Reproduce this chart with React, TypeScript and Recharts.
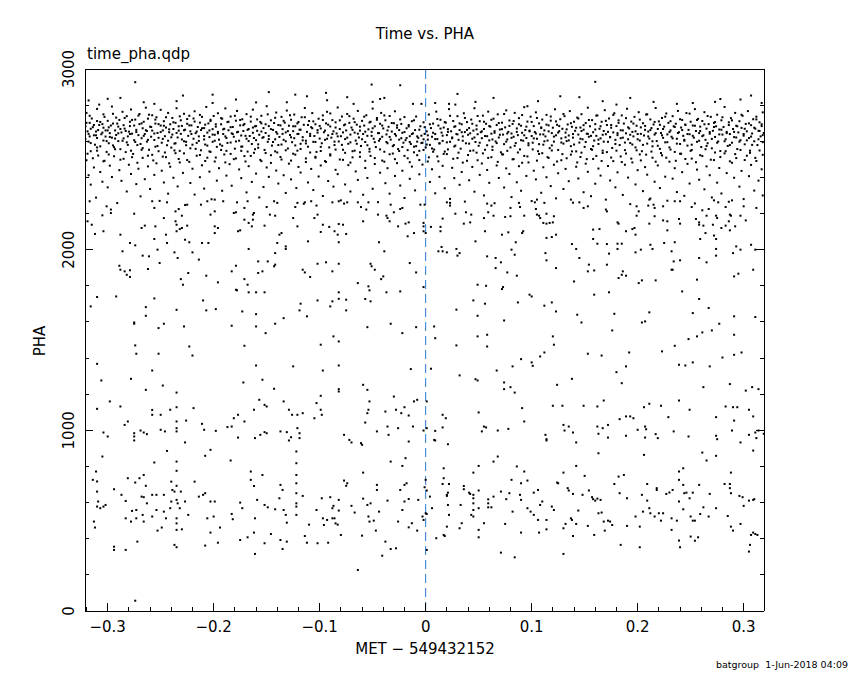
import { ScatterChart, Scatter, XAxis, YAxis, ReferenceLine } from 'recharts';

// every point is [time offset in ms from MET 549432152, PHA]
type Pt = [number, number];

const xTicks = [
  -0.32, -0.3, -0.28, -0.26, -0.24, -0.22, -0.2, -0.18, -0.16, -0.14, -0.12, -0.1, -0.08, -0.06, -0.04, -0.02,
  0, 0.02, 0.04, 0.06, 0.08, 0.1, 0.12, 0.14, 0.16, 0.18, 0.2, 0.22, 0.24, 0.26, 0.28, 0.3,
];
const xLabels = [-0.3, -0.2, -0.1, 0, 0.1, 0.2, 0.3];
const yTicks = [0, 200, 400, 600, 800, 1000, 1200, 1400, 1600, 1800, 2000, 2200, 2400, 2600, 2800, 3000];
const yLabels = [0, 1000, 2000, 3000];

// sparse points above the main band
const bandTop: Pt[] = [
  [-318,2826],[-308,2803],[-300,2835],[-288,2840],[-274,2927],[-266,2816],[-256,2807],[-235,2822],[-229,2853],
  [-201,2858],[-201,2812],[-179,2831],[-160,2815],[-148,2872],[-131,2816],[-123,2858],[-112,2849],[-94,2868],
  [-93,2827],[-74,2844],[-68,2807],[-51,2914],[-50,2818],[-43,2834],[-39,2840],[-24,2910],[-12,2807],[-4,2807],
  [9,2812],[22,2807],[28,2803],[30,2862],[47,2818],[64,2840],[96,2794],[106,2822],[127,2849],[145,2844],
  [160,2929],[167,2822],[180,2803],[193,2840],[215,2818],[237,2807],[252,2812],[273,2818],[278,2834],
  [297,2831],[307,2853],[317,2812],
];

// dense band around PHA 2540-2800
const bandCore: Pt[] = [
  [-321,2683],[-321,2612],[-320,2757],[-318,2641],[-318,2598],[-317,2702],[-316,2669],[-316,2545],[-315,2726],[-313,2633],
  [-313,2690],[-312,2581],[-311,2654],[-310,2779],[-310,2618],[-309,2662],[-307,2707],[-307,2572],[-306,2639],[-305,2695],
  [-304,2749],[-304,2604],[-302,2660],[-302,2626],[-301,2541],[-300,2713],[-299,2677],[-299,2589],[-298,2645],[-296,2792],
  [-296,2620],[-295,2698],[-294,2567],[-293,2660],[-292,2731],[-292,2635],[-290,2601],[-290,2681],[-289,2718],[-288,2556],
  [-287,2649],[-286,2763],[-285,2616],[-285,2689],[-284,2670],[-282,2594],[-282,2739],[-281,2627],[-280,2653],[-279,2708],
  [-278,2548],[-278,2776],[-277,2642],[-275,2687],[-275,2606],[-274,2720],[-273,2663],[-272,2579],[-271,2634],[-270,2695],
  [-270,2751],[-268,2617],[-267,2562],[-267,2672],[-266,2708],[-265,2640],[-264,2786],[-263,2598],[-263,2657],[-262,2725],
  [-261,2553],[-260,2681],[-259,2625],[-258,2744],[-258,2659],[-256,2607],[-255,2698],[-255,2570],[-254,2733],[-253,2646],
  [-252,2619],[-250,2687],[-250,2774],[-249,2592],[-248,2660],[-247,2711],[-246,2538],[-246,2628],[-245,2676],[-243,2757],
  [-243,2603],[-242,2650],[-241,2694],[-240,2565],[-239,2729],[-239,2637],[-238,2668],[-236,2589],[-236,2702],[-235,2783],
  [-234,2621],[-233,2659],[-232,2547],[-231,2716],[-231,2641],[-230,2685],[-228,2600],[-228,2752],[-227,2664],[-226,2578],
  [-225,2697],[-224,2630],[-223,2741],[-222,2655],[-222,2561],[-221,2688],[-219,2614],[-219,2726],[-218,2766],[-217,2645],
  [-216,2591],[-215,2679],[-214,2627],[-213,2703],[-212,2550],[-212,2662],[-211,2735],[-209,2610],[-209,2673],[-208,2582],
  [-207,2790],[-206,2648],[-205,2699],[-204,2623],[-204,2544],[-203,2712],[-201,2667],[-201,2597],[-200,2740],
  [-199,2636],[-198,2681],[-197,2569],[-196,2755],[-196,2652],[-195,2609],[-193,2694],[-193,2728],[-192,2575],[-191,2640],
  [-190,2669],[-189,2782],[-188,2618],[-188,2547],[-187,2706],[-186,2661],[-184,2593],[-184,2737],[-183,2644],[-182,2679],
  [-181,2625],[-180,2559],[-179,2714],[-178,2650],[-178,2768],[-176,2603],[-175,2688],[-174,2632],[-173,2571],[-173,2722],
  [-172,2657],[-171,2696],[-169,2614],[-169,2750],[-168,2543],[-167,2668],[-166,2629],[-165,2709],[-164,2585],[-163,2775],
  [-163,2647],[-161,2683],[-160,2606],[-159,2721],[-159,2658],[-158,2564],[-157,2636],[-155,2699],[-155,2741],[-154,2619],
  [-153,2673],[-152,2552],[-151,2646],[-150,2794],[-149,2597],[-148,2684],[-148,2630],[-146,2716],[-145,2576],[-144,2663],
  [-143,2701],[-142,2611],[-141,2759],[-140,2642],[-140,2538],
  [-139,2690],[-138,2624],[-136,2735],[-136,2582],[-135,2667],[-134,2608],[-133,2703],[-132,2649],[-131,2770],[-130,2560],
  [-129,2686],[-128,2635],[-127,2719],[-126,2595],[-125,2656],[-124,2748],[-124,2617],[-123,2683],[-121,2548],[-121,2640],
  [-120,2707],[-119,2664],[-118,2586],[-117,2733],[-116,2623],[-115,2691],[-114,2784],[-113,2603],[-112,2652],[-111,2570],
  [-110,2712],[-109,2641],[-108,2678],[-107,2756],[-106,2597],[-105,2629],[-104,2694],[-103,2541],[-102,2662],[-101,2725],
  [-100,2615],[-99,2671],[-98,2589],[-97,2743],[-96,2650],[-95,2608],[-94,2699],[-93,2763],[-92,2633],[-91,2566],
  [-90,2682],[-89,2620],[-88,2717],[-87,2655],[-86,2579],[-85,2705],[-84,2643],[-83,2787],[-82,2599],[-81,2668],[-80,2628],
  [-79,2737],[-78,2553],[-77,2689],[-76,2612],[-75,2660],[-74,2751],[-73,2586],[-72,2702],[-71,2637],[-70,2676],
  [-69,2545],[-68,2725],[-67,2648],[-66,2604],[-65,2692],[-64,2768],[-63,2621],[-62,2659],[-61,2574],[-60,2713],
  [-59,2640],[-58,2687],[-57,2596],[-56,2744],[-55,2630],[-54,2666],[-53,2558],[-52,2708],[-51,2652],[-50,2781],
  [-49,2614],[-48,2683],[-47,2568],[-46,2729],[-45,2645],[-44,2603],[-43,2697],[-42,2757],[-41,2625],[-40,2671],
  [-39,2542],[-38,2716],[-37,2638],[-36,2589],[-35,2680],[-34,2740],[-33,2609],[-32,2654],[-31,2573],[-30,2700],
  [-29,2766],[-28,2631],[-27,2688],[-26,2557],[-25,2662],[-24,2721],[-23,2617],[-22,2647],[-21,2592],[-20,2734],
  [-19,2606],[-18,2672],[-17,2551],[-16,2690],[-15,2628],[-14,2585],[-13,2711],[-12,2644],[-11,2570],[-10,2662],
  [-9,2737],[-8,2598],[-7,2619],[-6,2547],[-5,2683],[-4,2631],[-3,2592],[-2,2705],[-1,2641],[0,2566],
  [1,2655],[2,2609],[3,2748],[4,2580],[5,2673],[6,2625],[7,2698],[8,2554],[9,2640],[10,2764],
  [11,2612],[12,2687],[13,2588],[14,2719],[15,2648],[16,2602],[17,2676],[18,2543],[19,2703],[20,2634],
  [21,2667],[22,2778],[23,2597],[24,2655],[25,2621],[26,2712],[27,2571],[28,2683],[29,2640],[30,2739],
  [31,2608],[32,2662],[33,2559],[34,2694],[35,2627],[36,2755],[37,2651],[38,2589],[39,2706],[40,2636],
  [41,2673],[42,2547],[43,2720],[44,2614],[45,2659],[46,2783],[47,2596],[48,2687],[49,2639],[50,2575],
  [51,2711],[52,2650],[53,2617],[54,2742],[55,2668],[56,2553],[57,2697],[58,2628],[59,2764],[60,2605],
  [61,2681],[62,2642],[63,2570],[64,2725],[65,2656],[66,2599],[67,2690],[68,2749],[69,2621],[70,2665],
  [71,2539],[72,2703],[73,2637],[74,2584],[75,2677],[76,2771],[77,2610],[78,2652],[79,2715],[80,2566],
  [81,2643],[82,2696],[83,2625],[84,2757],[85,2590],[86,2671],[87,2634],[88,2728],[89,2555],[90,2686],
  [91,2647],[92,2603],[93,2789],[94,2662],[95,2618],[96,2709],[97,2578],[98,2655],[99,2736],[100,2629],
  [101,2592],[102,2684],[103,2651],[104,2760],[105,2614],[106,2545],[107,2699],[108,2638],[109,2673],[110,2720],
  [111,2581],[112,2660],[113,2627],[114,2746],[115,2604],[116,2688],[117,2562],[118,2714],[119,2645],[120,2675],
  [121,2598],[122,2777],[123,2633],[124,2691],[125,2552],[126,2656],[127,2722],[128,2616],[129,2669],[130,2587],
  [131,2739],[132,2648],[133,2601],[134,2693],[135,2632],[136,2767],[137,2573],[138,2680],[139,2620],[140,2708],
  [141,2658],[142,2544],[143,2731],[144,2637],[145,2593],[146,2676],[147,2750],[148,2611],[149,2664],[150,2569],
  [151,2701],[152,2642],[153,2786],[154,2625],[155,2683],[156,2557],[157,2717],[158,2650],[159,2604],[160,2695],
  [161,2630],[162,2743],[163,2585],[164,2669],[165,2616],[166,2708],[167,2548],[168,2657],[169,2772],[170,2639],
  [171,2690],[172,2597],[173,2726],[174,2622],[175,2675],[176,2563],[177,2649],[178,2755],[179,2608],[180,2684],
  [181,2634],[182,2716],[183,2579],[184,2661],[185,2743],[186,2620],[187,2698],[188,2551],[189,2644],[190,2780],
  [191,2611],[192,2671],[193,2590],[194,2709],[195,2652],[196,2627],[197,2735],[198,2566],[199,2686],[200,2640],
  [201,2761],[202,2604],[203,2677],[204,2545],[205,2700],[206,2632],[207,2663],[208,2748],[209,2587],[210,2654],
  [211,2615],[212,2721],[213,2673],[214,2572],[215,2693],[216,2637],[217,2784],[218,2601],[219,2668],[220,2710],
  [221,2558],[222,2646],[223,2729],[224,2619],[225,2681],[226,2594],[227,2754],[228,2638],[229,2702],[230,2566],
  [231,2660],[232,2625],[233,2739],[234,2683],[235,2541],[236,2697],[237,2614],[238,2768],[239,2650],[240,2585],
  [241,2676],[242,2718],[243,2630],[244,2603],[245,2691],[246,2756],[247,2576],[248,2663],[249,2639],[250,2708],
  [251,2552],[252,2687],[253,2620],[254,2778],[255,2657],[256,2597],[257,2724],[258,2645],[259,2681],[260,2568],
  [261,2712],[262,2633],[263,2761],[264,2608],[265,2670],[266,2589],[267,2695],[268,2642],[269,2735],[270,2561],
  [271,2658],[272,2702],[273,2624],[274,2683],[275,2747],[276,2599],[277,2665],[278,2546],[279,2716],[280,2637],
  [281,2679],[282,2790],[283,2611],[284,2652],[285,2574],[286,2705],[287,2640],[288,2728],[289,2592],[290,2668],
  [291,2623],[292,2757],[293,2686],[294,2557],[295,2649],[296,2711],[297,2606],[298,2674],[299,2741],[300,2631],
  [301,2583],[302,2696],[303,2655],[304,2767],[305,2618],[306,2548],[307,2689],[308,2643],[309,2722],[310,2600],
  [311,2670],[312,2736],[313,2579],[314,2658],[315,2705],[316,2627],[317,2684],[318,2760],[318,2595],[319,2646],
];

// the densest middle of the band, PHA 2560-2760
const bandDense: Pt[] = [
  [-320,2702],[-319,2655],[-317,2627],[-317,2741],[-316,2590],[-314,2678],[-311,2633],[-310,2712],[-310,2566],[-308,2690],
  [-305,2648],[-304,2675],[-303,2735],[-301,2601],[-300,2660],[-298,2624],[-297,2687],[-295,2752],[-295,2577],[-293,2615],
  [-291,2698],[-290,2644],[-288,2668],[-286,2603],[-284,2729],[-283,2657],[-281,2580],[-279,2684],[-279,2640],[-277,2718],
  [-274,2596],[-273,2651],[-271,2742],[-269,2585],[-268,2699],[-266,2630],[-264,2661],[-262,2608],[-261,2747],[-259,2679],
  [-256,2643],[-255,2720],[-253,2574],[-252,2695],[-250,2651],[-248,2613],[-247,2686],[-245,2733],[-244,2578],[-242,2666],
  [-240,2622],[-238,2705],[-237,2587],[-235,2646],[-233,2683],[-232,2738],[-230,2610],[-228,2661],[-226,2597],[-225,2723],
  [-223,2688],[-221,2640],[-220,2581],[-218,2709],[-216,2654],[-214,2602],[-213,2746],[-211,2672],[-209,2629],[-208,2692],
  [-206,2576],[-204,2660],[-203,2719],[-201,2637],[-199,2603],[-198,2694],[-196,2644],[-194,2583],[-192,2725],[-191,2666],
  [-189,2627],[-187,2591],[-186,2708],[-184,2678],[-182,2640],[-180,2741],[-179,2599],[-177,2652],[-175,2718],[-174,2570],
  [-172,2689],[-170,2630],[-168,2663],[-167,2601],[-165,2736],[-163,2676],[-162,2618],[-160,2684],[-158,2583],[-156,2707],
  [-155,2654],[-153,2623],[-151,2694],[-149,2749],[-148,2612],[-146,2667],[-144,2596],[-142,2730],[-141,2651],[-139,2579],
  [-137,2688],[-135,2641],[-134,2713],[-132,2600],[-130,2656],[-128,2744],[-127,2622],[-125,2683],[-123,2577],[-121,2699],
  [-120,2641],[-118,2664],[-116,2605],[-114,2733],[-113,2588],[-111,2690],[-109,2629],[-107,2672],[-106,2710],[-104,2596],
  [-102,2648],[-100,2685],[-99,2569],[-97,2718],[-95,2659],[-93,2614],[-92,2692],[-90,2754],[-88,2640],[-86,2598],
  [-85,2676],[-83,2627],[-81,2716],[-79,2580],[-78,2649],[-76,2693],[-74,2620],[-72,2739],[-71,2594],[-69,2663],
  [-67,2706],[-65,2586],[-64,2642],[-62,2681],[-60,2611],[-58,2736],[-57,2653],[-55,2578],[-53,2704],[-51,2630],
  [-50,2672],[-48,2595],[-46,2719],[-44,2645],[-43,2613],[-41,2687],[-39,2743],[-37,2596],[-36,2660],[-34,2624],
  [-32,2701],[-30,2579],[-29,2640],[-27,2675],[-25,2609],[-23,2696],[-22,2568],[-20,2651],[-18,2618],[-16,2682],
  [-15,2596],[-13,2640],[-11,2716],[-9,2573],[-8,2627],[-6,2664],[-4,2590],[-2,2611],[-1,2678],[1,2582],
  [2,2633],[4,2694],[6,2560],[7,2647],[9,2612],[11,2723],[13,2589],[14,2670],[16,2631],[18,2706],
  [20,2594],[21,2652],[23,2741],[25,2617],[27,2680],[28,2576],[30,2638],[32,2699],[34,2650],[35,2603],
  [37,2729],[39,2663],[41,2587],[42,2644],[44,2697],[46,2621],[48,2666],[49,2740],[51,2592],[53,2655],
  [55,2708],[56,2629],[58,2578],[60,2684],[62,2719],[63,2610],[65,2647],[67,2590],[69,2701],[70,2636],
  [72,2667],[74,2751],[76,2598],[77,2643],[79,2685],[81,2619],[83,2712],[84,2575],[86,2652],[88,2694],
  [90,2606],[91,2745],[93,2633],[95,2681],[97,2589],[98,2659],[100,2707],[102,2616],[104,2643],[105,2729],
  [107,2584],[109,2677],[111,2638],[112,2600],[114,2692],[116,2655],[118,2737],[119,2577],[121,2626],[123,2710],
  [125,2648],[126,2684],[128,2593],[130,2751],[132,2622],[133,2666],[135,2605],[137,2700],[139,2640],[140,2582],
  [142,2675],[144,2726],[146,2614],[147,2657],[149,2689],[151,2596],[153,2641],[154,2718],[156,2630],[158,2573],
  [160,2665],[161,2742],[163,2609],[165,2683],[167,2636],[168,2598],[170,2713],[172,2652],[174,2624],[175,2690],
  [177,2746],[179,2585],[181,2645],[182,2702],[184,2617],[186,2660],[188,2593],[189,2728],[191,2677],[193,2636],
  [195,2582],[196,2698],[198,2655],[200,2611],[202,2720],[203,2641],[205,2580],[207,2685],[209,2749],[210,2627],
  [212,2662],[214,2600],[216,2707],[217,2645],[219,2575],[221,2691],[223,2633],[224,2668],[226,2736],[228,2595],
  [230,2651],[231,2711],[233,2616],[235,2679],[237,2587],[238,2646],[240,2722],[242,2662],[244,2608],[245,2692],
  [247,2640],[249,2753],[251,2581],[252,2630],[254,2686],[256,2718],[258,2603],[259,2657],[261,2628],[263,2694],
  [265,2574],[266,2740],[268,2651],[270,2613],[272,2679],[273,2706],[275,2592],[277,2638],[279,2664],[280,2733],
  [282,2600],[284,2645],[286,2690],[287,2579],[289,2716],[291,2652],[293,2621],[294,2683],[296,2598],[298,2747],
  [300,2640],[301,2669],[303,2605],[305,2699],[307,2626],[308,2580],[310,2675],[312,2721],[314,2611],[315,2657],
  [317,2694],[318,2634],
];

// shoulder just under the band
const bandShoulder: Pt[] = [
  [-319,2531],[-314,2506],[-310,2548],[-304,2489],[-299,2527],[-293,2556],[-288,2498],[-283,2540],[-277,2512],[-272,2481],
  [-268,2553],[-262,2520],[-257,2494],[-252,2545],[-248,2515],[-242,2478],[-237,2549],[-233,2502],[-228,2533],[-223,2486],
  [-217,2558],[-213,2524],[-208,2491],[-203,2541],[-198,2510],[-193,2552],[-189,2483],[-184,2530],[-179,2505],[-174,2547],
  [-170,2488],[-165,2519],[-161,2556],[-156,2497],[-151,2535],[-146,2480],[-142,2544],[-137,2513],[-132,2550],[-127,2493],
  [-123,2526],[-118,2557],[-113,2485],[-109,2538],[-104,2509],[-99,2546],[-95,2490],[-90,2521],[-85,2554],[-81,2499],
  [-76,2536],[-71,2482],[-67,2548],[-62,2514],[-57,2492],[-53,2543],[-48,2507],[-43,2555],[-39,2487],[-34,2528],
  [-29,2501],[-25,2546],[-20,2519],[-15,2484],[-11,2539],[-6,2496],[-2,2552],[3,2511],[7,2542],[12,2489],
  [17,2530],[21,2555],[26,2503],[31,2537],[35,2482],[40,2524],[45,2549],[49,2495],[54,2533],[59,2508],
  [63,2552],[68,2486],[73,2527],[77,2547],[82,2500],[87,2538],[91,2481],[96,2516],[101,2555],[105,2493],
  [110,2534],[115,2512],[119,2549],[124,2488],[129,2529],[133,2506],[138,2544],[143,2483],[147,2537],[152,2501],
  [157,2553],[161,2519],[166,2491],[171,2540],[175,2510],[180,2548],[185,2485],[189,2532],[194,2504],[199,2550],
  [203,2494],[208,2526],[213,2543],[217,2487],[222,2535],[227,2509],[231,2554],[236,2492],[241,2531],[245,2502],
  [250,2547],[255,2484],[259,2523],[264,2556],[269,2498],[273,2538],[278,2513],[283,2545],[287,2489],[292,2529],
  [297,2552],[301,2496],[306,2536],[311,2508],[315,2549],[318,2525],
];

// thinner fringe under the band, PHA 2250-2540
const bandLow: Pt[] = [
  [-320,2495],[-318,2412],[-316,2360],[-313,2455],[-311,2288],[-309,2521],[-307,2430],[-305,2376],[-303,2492],[-300,2345],
  [-298,2465],[-296,2402],[-294,2517],[-291,2258],[-289,2440],[-287,2381],[-285,2503],[-282,2322],[-280,2470],[-278,2419],
  [-276,2530],[-273,2363],[-271,2448],[-269,2295],[-267,2508],[-265,2390],[-262,2461],[-260,2336],[-258,2525],[-256,2414],
  [-254,2478],[-251,2270],[-249,2437],[-247,2372],[-245,2512],[-243,2310],[-241,2459],[-238,2398],[-236,2534],[-234,2350],
  [-232,2483],[-229,2425],[-227,2247],[-225,2496],[-222,2369],[-220,2448],[-218,2305],[-216,2520],[-213,2401],[-211,2467],
  [-209,2338],[-206,2509],[-204,2432],[-202,2279],[-199,2488],[-197,2382],[-195,2451],[-192,2326],[-190,2527],[-188,2410],
  [-185,2473],[-183,2354],[-181,2501],[-178,2262],[-176,2444],[-174,2396],[-171,2518],[-169,2317],[-167,2462],[-164,2375],
  [-162,2536],[-160,2421],[-157,2289],[-155,2490],[-153,2347],[-150,2455],[-148,2403],[-146,2523],[-143,2268],[-141,2438],
  [-139,2366],[-136,2499],[-134,2412],[-132,2314],[-129,2476],[-127,2389],[-125,2531],[-122,2341],[-120,2458],[-118,2427],
  [-115,2254],[-113,2505],[-111,2372],[-108,2447],[-106,2330],[-104,2514],[-101,2405],[-99,2466],[-97,2297],[-94,2486],
  [-92,2380],[-90,2528],[-87,2349],[-85,2442],[-83,2418],[-80,2273],[-78,2497],[-76,2361],[-73,2468],[-71,2322],
  [-69,2511],[-66,2433],[-64,2386],[-62,2539],[-59,2304],[-57,2452],[-55,2397],[-52,2519],[-50,2337],[-48,2474],
  [-45,2263],[-43,2426],[-41,2493],[-38,2368],[-36,2451],[-34,2310],[-31,2532],[-29,2408],[-27,2479],[-24,2355],
  [-22,2437],[-20,2286],[-17,2506],[-15,2392],[-13,2460],[-10,2328],[-8,2523],[-6,2417],[-3,2471],[-1,2249],
  [2,2488],[4,2375],[6,2445],[9,2312],[11,2516],[13,2403],[16,2464],[18,2340],[20,2529],[23,2281],
  [25,2453],[27,2396],[30,2507],[32,2359],[34,2430],[37,2266],[39,2492],[41,2384],[44,2458],[46,2321],
  [48,2537],[51,2414],[53,2477],[55,2300],[58,2441],[60,2370],[62,2512],[65,2257],[67,2466],[69,2397],
  [72,2528],[74,2344],[76,2450],[79,2419],[81,2291],[83,2501],[86,2373],[88,2462],[90,2326],[93,2519],
  [95,2408],[97,2483],[100,2269],[102,2437],[104,2389],[107,2530],[109,2315],[111,2456],[114,2401],[116,2508],
  [118,2352],[121,2470],[123,2284],[125,2423],[128,2495],[130,2336],[132,2447],[135,2379],[137,2526],[139,2260],
  [142,2459],[144,2394],[146,2513],[149,2318],[151,2476],[153,2431],[156,2296],[158,2502],[160,2365],[163,2449],
  [165,2410],[167,2535],[170,2277],[172,2463],[174,2383],[177,2490],[179,2345],[181,2428],[184,2516],[186,2303],
  [188,2470],[191,2399],[193,2252],[195,2483],[198,2361],[200,2440],[202,2527],[205,2324],[207,2457],[209,2415],
  [212,2283],[214,2509],[216,2376],[219,2466],[221,2341],[223,2522],[226,2404],[228,2271],[230,2487],[233,2393],
  [235,2451],[237,2319],[240,2531],[242,2429],[244,2298],[247,2475],[249,2366],[251,2504],[254,2256],[256,2443],
  [258,2387],[261,2518],[263,2334],[265,2461],[268,2412],[270,2289],[272,2496],[275,2371],[277,2452],[279,2311],
  [282,2533],[284,2424],[286,2265],[289,2481],[291,2398],[293,2507],[296,2349],[298,2436],[300,2280],[303,2520],
  [305,2407],[307,2469],[310,2327],[312,2491],[314,2382],[317,2445],[318,2300],
];

// scattered points between the band and the 1000 level, before t = 0
const midLeft: Pt[] = [
  [-317,2268],[-301,2240],[-297,2222],[-297,2203],[-319,2157],[-315,2138],[-305,2190],[-304,2102],[-312,2087],[-288,2083],[-275,2199],[-286,1991],[-279,2037],[-274,2024],
  [-289,1911],[-288,1889],[-284,1880],[-282,1861],[-279,1849],[-279,1886],[-268,2120],[-265,2133],[-267,1967],[-261,1963],[-262,1893],
  [-258,2268],[-256,2231],[-255,2129],[-256,2059],[-253,2000],[-251,1926],[-247,2175],[-245,2083],[-244,2037],[-244,2262],
  [-236,2212],[-233,2225],[-230,2188],[-236,2157],[-235,2138],[-235,2102],[-232,2114],[-230,2120],[-225,2133],
  [-227,2055],[-223,2041],[-237,1985],[-234,1954],[-225,2249],[-212,2249],[-206,2268],[-220,1985],[-214,1945],[-211,2037],[-205,2037],
  [-203,2194],[-199,2212],[-199,2129],[-196,2120],[-199,2092],[-199,2277],[-191,2268],[-224,1871],[-231,1837],[-229,1806],[-207,1856],[-196,1819],
  [-183,1880],[-179,1911],[-171,1837],[-168,1806],[-167,1764],[-160,1764],[-152,1764],[-179,1778],[-178,1775],
  [-181,2203],[-179,2207],[-177,2102],[-175,2107],[-171,2231],[-168,2268],[-167,2148],[-164,2129],[-163,2194],[-162,2203],[-163,2166],[-171,2166],
  [-167,2004],[-158,1935],[-158,1871],[-154,1880],[-149,1935],[-142,1981],[-143,1908],[-142,1917],[-138,2083],[-136,2092],
  [-147,2194],[-142,2188],[-152,2133],[-140,2037],[-132,2018],[-132,2004],[-150,2236],[-140,2259],[-123,2236],[-121,2259],[-114,2262],[-108,2268],[-103,2244],
  [-125,2175],[-121,2129],[-111,2046],[-105,2175],[-102,2194],[-116,1889],[-114,1874],[-109,1849],[-102,1922],[-94,1930],[-88,1880],[-82,1922],
  [-118,1701],[-119,1664],[-112,1631],[-134,1621],[-99,2098],[-97,2138],[-91,2126],[-86,2102],[-83,2083],[-82,2142],[-78,2138],[-75,2087],[-82,2041],
  [-88,2262],[-82,2268],[-77,2255],[-74,2262],[-64,2262],[-61,2236],[-54,2262],
  [-59,2157],[-56,2222],[-52,1922],[-51,1908],[-48,1889],[-45,2194],[-44,2041],[-42,1837],[-39,1991],[-40,1852],
  [-37,2188],[-36,2175],[-34,2157],[-33,2249],[-30,2207],[-26,2129],[-24,2225],[-22,2231],[-19,2144],[-16,2151],[-17,2074],[-11,2092],
  [-5,2249],[-2,2148],[-2,2129],[-2,2102],[-15,1926],[-9,1874],[-64,1815],[-54,1797],[-53,1775],[-37,1764],[-24,1769],[-2,1793],
  [-102,1719],[-90,1686],[-88,1714],[-82,1764],[-82,1728],[-75,1723],[-75,1664],[-57,1727],[-52,1714],
  [-316,1686],[-310,1738],[-292,1741],[-264,1682],[-264,1634],[-256,1730],[-235,1667],[-210,1719],[-207,1664],[-198,1671],[-173,1658],[-160,1643],
  [-275,1597],[-275,1590],[-247,1590],[-252,1566],[-228,1575],[-183,1579],[-160,1575],[-142,1590],[-151,1538],
  [-274,1470],[-273,1424],[-252,1424],[-223,1464],[-220,1414],[-171,1468],[-99,1474],[-87,1520],[-82,1492],[-55,1571],[-33,1590],[-22,1538],[-9,1571],
  [-310,1368],[-258,1331],[-160,1359],[-125,1354],[-97,1331],[-82,1359],[-14,1339],
  [-306,1276],[-278,1285],[-248,1248],[-264,1224],[-235,1209],[-172,1265],[-154,1280],[-143,1230],[-99,1191],[-82,1228],[-82,1215],[-59,1252],[-55,1224],[-30,1187],
];

// same region, after t = 0
const midRight: Pt[] = [
  [20,2262],[23,2259],[23,2244],[28,2199],[38,2207],[43,2194],[36,2144],[42,2151],[16,2172],[14,2126],[14,2102],[5,2126],[0,2092],
  [15,2015],[12,1991],[16,1991],[20,1985],[29,2004],[32,1981],[30,1967],[47,2046],[56,2102],[58,2255],[59,2207],[62,2244],[64,2188],[55,2175],
  [72,2083],[75,2181],[78,2096],[80,2185],[80,2231],[88,2259],[89,2236],[93,2188],[91,2092],[92,2102],[85,2041],[81,2000],[84,1972],
  [58,1963],[66,1954],[71,1930],[66,1898],[77,1874],[86,1856],
  [105,2277],[103,2262],[112,2259],[104,2225],[105,2194],[107,2188],[108,2175],[114,2199],[111,2148],[114,2144],[117,2148],[120,2151],[121,2185],
  [114,2065],[119,2070],[123,2083],[113,1981],[114,1941],[123,1898],
  [137,2277],[145,2262],[149,2231],[153,2240],[158,2111],[158,2059],[162,2033],[164,2114],[170,2222],[171,2212],
  [138,2031],[142,2004],[145,1954],[154,1917],[153,1880],[159,1885],[171,2031],[173,1978],[171,1917],[181,2033],[181,2004],[185,2033],
  [181,2151],[182,2144],[189,2102],[195,2114],[197,2120],[198,2083],
  [199,2240],[201,2212],[199,2188],[210,2244],[215,2249],[211,2277],[216,2231],[224,2240],[235,2268],[240,2268],
  [211,2144],[216,2185],[224,2162],[228,2157],[228,2107],[239,2170],[240,2144],
  [198,1985],[203,2000],[212,2027],[214,2004],[225,2037],[232,1991],[235,2041],
  [182,1843],[185,1861],[186,1880],[189,1856],[201,1815],[204,1830],[217,1830],[234,1935],[240,1941],[232,1889],[233,1889],
  [251,2236],[255,2170],[258,2151],[262,2133],[261,2218],[265,2188],[258,2138],[267,2225],[271,2138],[274,2188],[275,2175],[279,2120],
  [283,2133],[286,2157],[287,2107],[287,2194],[288,2188],[292,2129],[297,2188],[302,2162],
  [272,2273],[276,2262],[283,2236],[289,2273],[300,2240],[312,2231],[264,2092],[272,2078],[274,2059],
  [259,2059],[274,2004],[274,1967],[293,2018],[297,2000],[290,1981],[307,2027],[311,2000],[309,1889],
  [258,1954],[265,1930],[291,1852],[295,1867],[256,1834],[242,1769],[258,1727],[267,1677],[252,1649],
  [8,1575],[9,1510],[29,1668],[29,1470],[32,1304],[5,1341],[49,1806],[57,1800],[45,1719],[56,1701],[49,1634],[49,1520],[58,1529],[58,1464],[47,1283],[49,1276],
  [73,1793],[72,1782],[74,1608],[67,1331],[74,1265],[80,1239],[74,1228],[84,1209],[90,1394],[82,1354],[87,1708],
  [98,1751],[100,1741],[112,1690],[119,1708],[123,1658],[120,1520],[121,1474],[108,1409],[112,1431],[100,1376],[101,1357],[124,1252],[138,1285],
  [140,1824],[143,1640],[147,1597],[159,1751],[173,1764],[178,1645],[176,1553],[153,1424],[166,1414],[180,1322],[189,1354],[185,1261],[192,1431],
  [211,1653],[204,1597],[207,1603],[223,1437],[235,1468],[239,1363],[245,1359],[252,1376],[248,1505],[256,1520],[261,1542],[270,1553],[277,1590],[268,1354],[280,1403],
  [291,1631],[311,1627],[291,1529],[291,1418],[298,1431],[287,1256],[302,1220],[308,1239],[314,1228],[262,1239],
];

// lower cluster, PHA below ~1170, before t = 0
const lowLeft: Pt[] = [
  [-298,1160],[-310,1119],[-288,1132],[-258,1113],[-258,1086],[-250,1086],[-241,1114],[-235,1128],[-219,1123],
  [-235,1049],[-235,1012],[-235,994],[-226,1054],[-284,1030],[-281,1049],[-304,988],[-300,966],
  [-275,984],[-275,966],[-275,944],[-269,999],[-266,988],[-263,979],[-250,1003],[-246,994],[-227,933],[-211,1036],[-209,1003],[-198,997],
  [-187,1018],[-183,1021],[-181,1067],[-177,1086],[-171,1049],[-162,1114],[-157,1169],[-152,1141],[-150,1132],
  [-177,960],[-161,957],[-156,975],[-152,990],[-150,984],[-137,994],[-131,990],[-127,962],
  [-134,1160],[-129,1114],[-126,1086],[-121,1086],[-116,1095],[-121,1012],[-119,984],[-119,957],[-129,944],
  [-122,883],[-122,818],[-122,753],[-122,707],[-122,652],[-122,596],[-122,578],[-122,532],
  [-103,1151],[-99,1114],[-98,1086],[-105,1067],[-77,975],[-72,947],[-70,933],[-61,929],[-60,920],
  [-57,1043],[-55,1095],[-54,1114],[-53,1160],[-46,994],[-38,1104],[-36,1021],[-35,975],[-28,1114],[-23,1095],[-20,1128],[-16,1082],[-11,1160],[-8,1169],
  [-33,827],[-26,1012],[-22,803],[-19,846],[-16,938],[-12,1021],[-2,999],
  [-256,822],[-244,886],[-235,827],[-235,776],[-208,859],[-203,892],[-184,833],[-305,855],
  [-311,772],[-314,726],[-310,717],[-310,661],[-309,606],[-310,578],[-307,569],[-304,578],[-302,587],[-313,495],[-312,462],
  [-294,674],[-281,735],[-274,711],[-270,735],[-266,753],[-264,693],
  [-287,643],[-283,609],[-277,554],[-283,513],[-278,495],[-273,513],[-273,559],[-268,633],[-266,630],[-267,532],[-266,495],
  [-263,596],[-258,643],[-258,523],[-254,643],[-254,559],[-253,445],[-249,462],
  [-247,643],[-247,550],[-245,513],[-241,569],[-240,716],[-240,606],[-239,670],[-237,661],[-235,693],[-235,615],[-235,513],[-235,485],[-235,449],
  [-234,596],[-232,569],[-231,661],[-230,452],[-227,606],[-237,366],[-235,353],[-224,532],
  [-218,716],[-214,633],[-210,643],[-208,652],[-203,606],[-199,606],[-206,513],[-200,523],[-203,434],[-194,462],[-208,362],[-196,378],
  [-294,356],[-294,338],[-283,338],[-272,384],[-274,57],
  [-183,537],[-182,508],[-175,600],[-173,569],[-175,393],[-168,408],[-165,772],[-165,726],[-162,692],[-161,513],[-159,615],[-154,753],[-152,587],
  [-162,434],[-161,316],[-152,375],[-146,426],[-149,574],[-142,563],
  [-137,698],[-135,670],[-138,624],[-134,559],[-132,532],[-131,489],[-137,393],[-135,343],[-131,384],
  [-116,637],[-114,415],[-112,378],[-110,478],[-103,559],[-102,375],[-98,624],[-97,513],[-96,476],[-93,504],[-92,378],[-90,630],
  [-88,569],[-87,582],[-88,513],[-86,513],[-85,485],[-83,478],[-82,556],[-80,421],
  [-82,615],[-77,722],[-75,693],[-74,707],[-70,582],[-67,545],[-64,227],[-60,417],[-59,622],[-59,766],[-55,587],[-54,523],[-53,495],
  [-52,596],[-49,500],[-47,445],[-46,698],[-46,670],[-44,550],
  [-41,306],[-38,384],[-36,611],[-33,343],[-28,347],[-26,495],[-24,670],[-22,559],[-20,698],[-20,606],[-18,707],[-16,620],[-16,463],
  [-13,486],[-8,445],[-7,615],[-3,523],[-1,685],[0,541],
];

// lower cluster, after t = 0
const lowRight: Pt[] = [
  [1,1160],[91,1123],[120,1136],[129,1136],[149,1136],[162,1132],[168,1165],[206,1128],[211,1147],[222,1136],[239,1165],[249,1114],
  [283,1132],[290,1128],[294,1128],[305,1114],
  [1,1012],[9,997],[8,947],[9,944],[16,1086],[19,1067],[16,1016],[21,923],
  [50,1099],[53,994],[55,1021],[57,1016],[68,999],[78,1008],[93,1049],[113,975],[114,951],[114,944],
  [130,1030],[131,999],[135,1021],[139,988],[142,933],[162,1021],[163,981],[167,1012],[172,1030],[172,960],
  [183,1062],[189,1077],[193,1077],[196,1067],[189,970],[200,1003],[206,864],[207,1021],[208,1006],[207,960],[217,979],[219,957],
  [229,1073],[234,994],[248,966],
  [261,877],[265,833],[274,1073],[274,970],[275,951],[274,859],[289,999],[291,1054],[297,933],[305,975],[309,1077],[309,888],
  [311,988],[312,957],[314,999],[319,981],
  [17,790],[17,735],[16,703],[22,703],[21,655],[20,643],[20,637],[21,587],[22,532],[20,467],[17,421],[18,415],[10,403],
  [6,569],[0,726],[1,667],[4,633],[1,537],[-2,504],[1,338],
  [32,458],[34,486],[33,587],[36,692],[36,674],[41,655],[42,648],[45,643],[45,624],[45,596],[45,559],[43,532],[45,523],
  [50,667],[50,569],[45,766],[50,803],[55,486],[50,449],[50,408],
  [59,618],[59,596],[59,574],[62,574],[64,633],[64,827],[68,855],[71,661],[71,323],[75,482],[76,619],[79,652],[81,726],
  [82,550],[84,297],[86,800],[89,643],[90,615],[90,707],[90,434],[93,772],[96,722],[96,569],[99,550],[102,532],
  [102,655],[106,670],[108,587],[110,606],[106,504],[107,434],[114,452],[114,504],[119,578],[121,559],[124,711],[125,707],
  [130,766],[130,458],[130,316],[132,482],[134,680],[135,667],[137,513],[138,504],[139,648],[139,415],[142,803],[142,482],[144,556],
  [148,643],[150,748],[153,471],[154,667],[157,630],[158,619],[160,611],[162,622],[165,615],[163,541],[166,545],[159,421],
  [163,873],[168,495],[169,445],[172,500],[174,495],[176,476],[178,703],[182,744],[183,652],[184,366],[187,753],[190,624],
  [190,471],[198,523],[202,353],[202,467],[204,643],[205,550],[209,703],[209,611],[211,569],[212,541],[216,523],[218,680],
  [218,670],[220,541],[222,500],[224,541],[227,648],[230,656],[233,670],[232,513],[232,449],[237,500],[239,772],[239,726],
  [243,790],[243,698],
  [239,606],[239,390],[240,353],[243,563],[244,652],[246,655],[249,624],[250,523],[250,412],[252,500],[252,655],[254,500],
  [254,389],[257,408],[258,698],[259,537],[262,574],[267,523],[268,648],[274,569],
  [282,703],[285,526],[287,680],[288,652],[288,467],[290,445],[288,766],[287,703],[296,637],[299,630],[297,482],[300,582],
  [305,611],[309,615],[310,619],[305,329],[306,366],[307,421],[309,434],[311,426],[313,421],
];

const rows = [bandTop, bandCore, bandDense, bandShoulder, bandLow, midLeft, midRight, lowLeft, lowRight]
  .flat()
  .map(([ms, pha]) => ({ t: ms / 1000, pha }));

const X_DOMAIN: [number, number] = [-0.3214, 0.3192];
const FONT = '"DejaVu Sans", sans-serif';

const fmtX = (v: number) => (v === 0 ? '0' : (v < 0 ? '\u2212' : '') + Math.abs(v).toFixed(1));

const BottomTick = (props: any) => {
  const { x, y, payload } = props;
  const major = xLabels.includes(payload.value);
  return (
    <g>
      <line x1={x} y1={y} x2={x} y2={y - (major ? 8 : 4)} stroke="#000" shapeRendering="crispEdges" />
      {major && (
        <text x={x} y={y + 21} textAnchor="middle" fontFamily={FONT} fontSize={15} fill="#000">
          {fmtX(payload.value)}
        </text>
      )}
    </g>
  );
};

const TopTick = (props: any) => {
  const { x, y, payload } = props;
  const major = xLabels.includes(payload.value);
  return <line x1={x} y1={y} x2={x} y2={y + (major ? 8 : 4)} stroke="#000" shapeRendering="crispEdges" />;
};

const LeftTick = (props: any) => {
  const { x, y, payload } = props;
  const major = yLabels.includes(payload.value);
  return (
    <g>
      <line x1={x} y1={y} x2={x + (major ? 8 : 4)} y2={y} stroke="#000" shapeRendering="crispEdges" />
      {major && (
        <text
          transform={`translate(${x - 11},${y}) rotate(-90)`}
          textAnchor="middle"
          fontFamily={FONT}
          fontSize={15}
          fill="#000"
        >
          {payload.value}
        </text>
      )}
    </g>
  );
};

const RightTick = (props: any) => {
  const { x, y, payload } = props;
  const major = yLabels.includes(payload.value);
  return <line x1={x} y1={y} x2={x - (major ? 8 : 4)} y2={y} stroke="#000" shapeRendering="crispEdges" />;
};

const Dot = (props: any) => <rect x={props.cx - 1} y={props.cy - 1} width={2} height={2} fill="#000" />;

const axisLine = { stroke: '#000', shapeRendering: 'crispEdges' };

export default function App() {
  return (
    <div style={{ position: 'absolute', left: 0, top: 0, width: 850, height: 680, background: '#fff' }}>
      <ScatterChart width={850} height={680} margin={{ top: 59, right: 76, bottom: 39, left: 55 }}>
        <XAxis
          dataKey="t"
          type="number"
          domain={X_DOMAIN}
          allowDataOverflow
          ticks={xTicks}
          interval={0}
          height={30}
          tickSize={0}
          tickMargin={0}
          tickLine={false}
          tick={<BottomTick />}
          axisLine={axisLine}
        />
        <XAxis
          xAxisId="top"
          orientation="top"
          type="number"
          domain={X_DOMAIN}
          allowDataOverflow
          ticks={xTicks}
          interval={0}
          height={10}
          tickSize={0}
          tickMargin={0}
          tickLine={false}
          tick={<TopTick />}
          axisLine={axisLine}
        />
        <YAxis
          dataKey="pha"
          type="number"
          domain={[0, 3000]}
          allowDataOverflow
          ticks={yTicks}
          interval={0}
          width={30}
          tickSize={0}
          tickMargin={0}
          tickLine={false}
          tick={<LeftTick />}
          axisLine={axisLine}
        />
        <YAxis
          yAxisId="right"
          orientation="right"
          type="number"
          domain={[0, 3000]}
          allowDataOverflow
          ticks={yTicks}
          interval={0}
          width={10}
          tickSize={0}
          tickMargin={0}
          tickLine={false}
          tick={<RightTick />}
          axisLine={axisLine}
        />
        <ReferenceLine x={0} stroke="#2a78d6" strokeDasharray="9 5" />
        <Scatter data={rows} shape={Dot} isAnimationActive={false} />
      </ScatterChart>
      <svg width={850} height={680} style={{ position: 'absolute', left: 0, top: 0, pointerEvents: 'none' }}>
        <g fontFamily={FONT} fill="#000">
          <text x={425} y={39} textAnchor="middle" fontSize={15}>Time vs. PHA</text>
          <text x={87} y={59} fontSize={15}>time_pha.qdp</text>
          <text x={425} y={654} textAnchor="middle" fontSize={15}>MET {'\u2212'} 549432152</text>
          <text transform="translate(45,341) rotate(-90)" textAnchor="middle" fontSize={15}>PHA</text>
          <text x={848} y={668} textAnchor="end" fontSize={9.5} style={{ whiteSpace: 'pre' }}>
            {'batgroup  1-Jun-2018 04:09'}
          </text>
        </g>
      </svg>
    </div>
  );
}
